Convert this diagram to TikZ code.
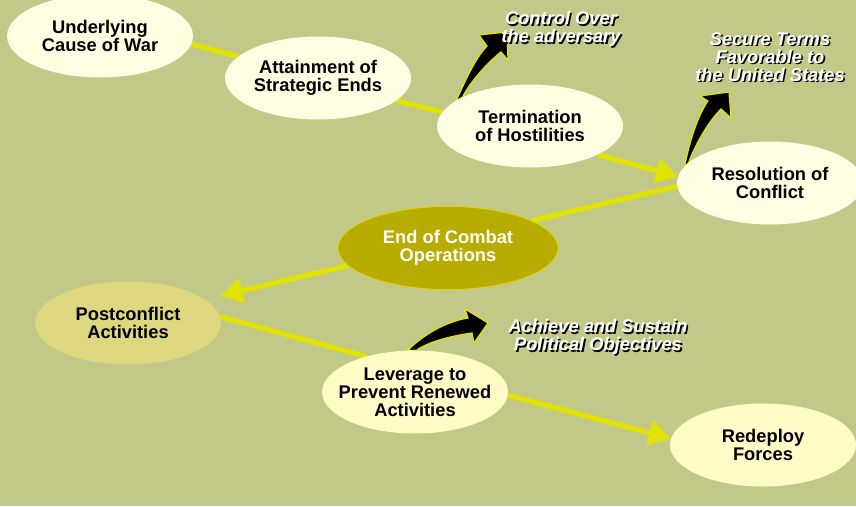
\documentclass[tikz,border=0pt]{standalone}
\usepackage{fontspec}
\setmainfont{Liberation Sans}
\usetikzlibrary{shapes.geometric}
\usetikzlibrary{arrows.meta}
\definecolor{fieldbg}{RGB}{194,201,136}
\definecolor{linkyellow}{RGB}{226,228,0}
\definecolor{creamA}{RGB}{255,253,226}
\definecolor{creamB}{RGB}{255,251,198}
\definecolor{pcafill}{RGB}{221,216,128}
\definecolor{olivefill}{RGB}{184,172,0}
\definecolor{olivering}{RGB}{222,212,0}
\pgfdeclarelayer{canvas}
\pgfdeclarelayer{links}
\pgfsetlayers{canvas,links,main}

\begin{document}
\begin{tikzpicture}[x=1pt, y=-1pt,
  bubble/.style={ellipse, fill=creamA, minimum width=186pt, minimum height=83pt,
    inner xsep=-40pt, inner ysep=0pt, align=center,
    font=\fontsize{18.3}{18}\selectfont\bfseries},
  link/.style={draw=linkyellow, line width=5pt},
  linkarrow/.style={link, -{Triangle[length=22pt, width=24pt]}},
  goal/.style={align=center, text=white, font=\fontsize{18.3}{18}\selectfont\bfseries\itshape},
  goalshade/.style={goal, text=black, xshift=1.6pt, yshift=-1.6pt},
  pointer/.style={fill=black, draw=linkyellow, line width=1.2pt, line join=miter}]
\useasboundingbox (0,0) rectangle (856,506);
\begin{pgfonlayer}{canvas}
\fill[fieldbg] (0,0) rectangle (856,506);
\end{pgfonlayer}

% stages
\node[bubble] (ucw) at (100,36) {Underlying\\Cause of War};
\node[bubble] (ase) at (318,78) {Attainment of\\Strategic Ends};
\node[bubble] (toh) at (530,126) {Termination\\of Hostilities};
\node[bubble] (roc) at (770,183) {Resolution of\\Conflict};
\node[bubble, minimum width=220pt, fill=olivefill, draw=olivering, line width=.8pt, text=white] (eco) at (448,248) {End of Combat\\Operations};
\node[bubble, fill=pcafill] (pca) at (128,323) {Postconflict\\Activities};
\node[bubble, fill=creamB] (lpr) at (415,392) {Leverage to\\Prevent Renewed\\Activities};
\node[bubble, fill=creamB] (rdf) at (763,445) {Redeploy\\Forces};

% goals
\node[goalshade] (ctl-s) at (561,29) {Control Over\\the adversary};
\node[goal] (ctl) at (561,29) {Control Over\\the adversary};
\node[goalshade] (sec-s) at (770,57) {Secure Terms\\Favorable to\\the United States};
\node[goal] (sec) at (770,57) {Secure Terms\\Favorable to\\the United States};
\node[goalshade] (pol-s) at (598,337) {Achieve and Sustain\\Political Objectives};
\node[goal] (pol) at (598,337) {Achieve and Sustain\\Political Objectives};

\begin{pgfonlayer}{links}
\foreach \a/\b in {ucw.-5/ase.165, ase.-16/toh.171, roc.182/eco.18, pca.4/lpr.144}
  \draw[link] (\a) -- (\b);
\foreach \a/\b in {toh.-23/roc.176, lpr.-2/rdf.176}
  \draw[linkarrow] (\a) -- (\b);
\draw[linkarrow, shorten >=16pt] (eco.190) -- (pca.17);
% curved pointers
\draw[pointer] (toh.161) .. controls (466,80) and (474,60) .. (487,46) -- (479,35) -- (507,32)
  -- (508,60) -- (501,52) .. controls (488,62) and (470,82) .. (toh.157) -- cycle;
\draw[pointer] (roc.169) .. controls (690,140) and (698,115) .. (708,101) -- (700,96) -- (729,92)
  -- (731,118) -- (721,109) .. controls (708,122) and (695,145) .. (roc.166) -- cycle;
\draw[pointer] (lpr.100) .. controls (422,336) and (444,322) .. (468,318) -- (465,309) -- (488,323)
  -- (474,343) -- (472,333) .. controls (450,336) and (428,342) .. (lpr.88) -- cycle;
\end{pgfonlayer}
\end{tikzpicture}
\end{document}
